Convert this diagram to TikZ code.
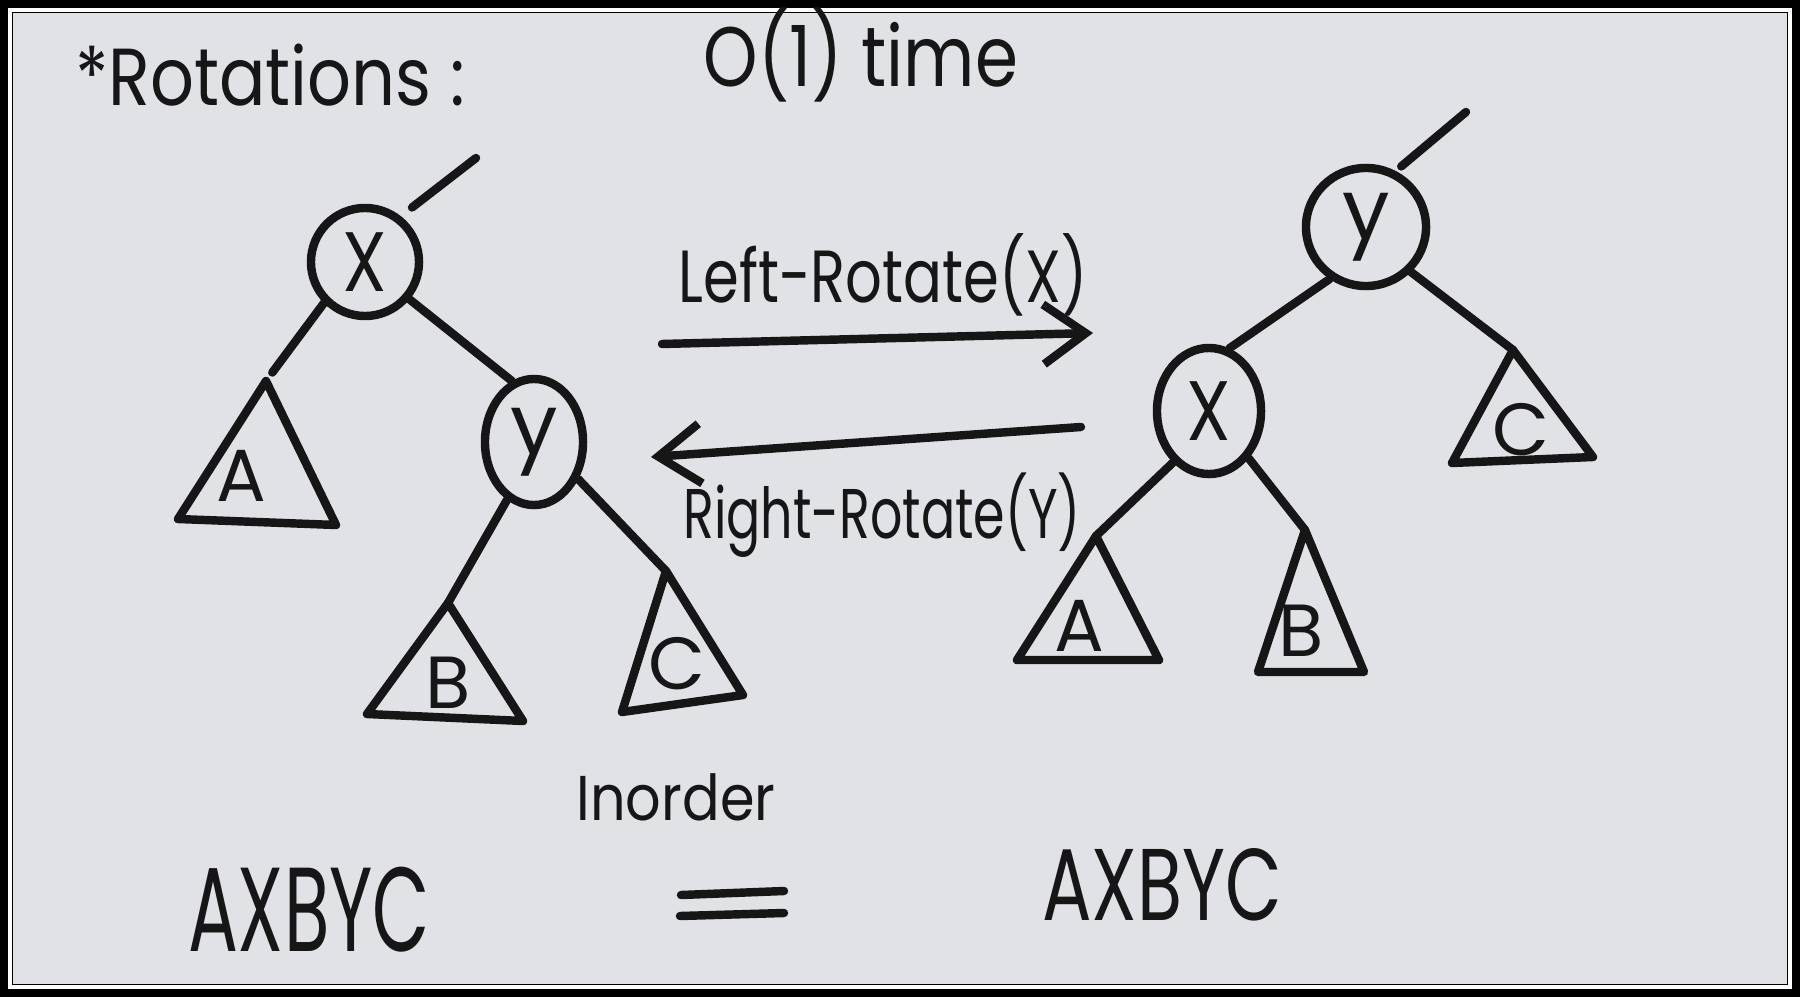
\documentclass[tikz,border=0pt]{standalone}
\usepackage{fontspec}
\setmainfont{Poppins}
\usetikzlibrary{arrows.meta,shapes.geometric}

\definecolor{paper}{RGB}{224,226,229}
\definecolor{ink}{RGB}{22,22,22}
\newcommand{\hw}[2][0.78]{\scalebox{#1}[1]{#2}}

\tikzset{
  pen/.style = {ink, line width=2.4pt, line cap=round, line join=round},
  vertex/.style = {pen, draw, ellipse, inner sep=0pt, font=\fontsize{24}{24}\selectfont},
  sub/.style = {ink, inner sep=0pt, font=\fontsize{21}{21}\selectfont},
  words/.style = {ink, inner sep=0pt},
  rot/.style = {pen, -{Straight Barb[length=12pt, width=17pt]}},
}

\begin{document}
\begin{tikzpicture}[x=0.01cm, y=-0.01cm]
	% frame and paper
	\fill [black] (0,0) rectangle (1800,997);
	\draw [white, line width=1pt] (10,10) rectangle (1790,987);
	\fill [paper] (13,13) rectangle (1787,984);
	%\shade [left color=black!25, right color=paper] (13,13) rectangle (60,984);

	% headings
	\node [words, font=\fontsize{23}{23}\selectfont] (title) at (270,75) {\hw[0.85]{*Rotations :}};
	\node [words, font=\fontsize{24}{24}\selectfont] (cost) at (861,55) {\hw[0.82]{O(1) time}};

	% tree before the rotation
	\node [vertex, minimum width=1.08cm, minimum height=1.08cm] (lx) at (365,262) {\hw[0.85]{X}};
	\node [vertex, minimum width=0.98cm, minimum height=1.26cm] (ly) at (534,442) {y};
	\coordinate (ltop) at (476,158);
	\coordinate (la) at (266,381);
	\coordinate (lb) at (448,603);
	\coordinate (lc) at (666,571);
	\draw [pen, shorten <=4pt] (lx.52) -- (ltop);
	\draw [pen, shorten >=3pt] (lx.-135) -- (la);
	\draw [pen] (lx.-40) -- (ly.110);
	\draw [pen] (ly.-115) -- (lb);
	\draw [pen] (ly.-40) -- (lc);
	\draw [pen] (la) -- (178,519) -- (336,525) -- cycle;
	\draw [pen] (lb) -- (367,714) -- (523,721) -- cycle;
	\draw [pen] (lc) -- (622,712) -- (743,695) -- cycle;
	\node [sub] (lal) at (241,476) {A};
	\node [sub] (lbl) at (448,683) {B};
	\node [sub] (lcl) at (677,664) {C};

	% the two rotations
	\coordinate (fwdA) at (662,344);
	\coordinate (fwdB) at (1093,333);
	\coordinate (bwdA) at (1081,427);
	\coordinate (bwdB) at (651,457);
	\draw [rot] (fwdA) -- (fwdB);
	\draw [rot] (bwdA) -- (bwdB);
	\node [words, font=\fontsize{21}{21}\selectfont] (leftrot) at (883,275) {\hw{Left-Rotate(X)}};
	\node [words, font=\fontsize{20}{20}\selectfont] (rightrot) at (882,515) {\hw[0.72]{Right-Rotate(Y)}};

	% tree after the rotation
	\node [vertex, minimum width=1.2cm, minimum height=1.18cm] (ry) at (1366,227) {y};
	\node [vertex, minimum width=1.04cm, minimum height=1.26cm] (rx) at (1209,411) {\hw[0.85]{X}};
	\coordinate (rtop) at (1466,112);
	\coordinate (ra) at (1096,536);
	\coordinate (rb) at (1305,530);
	\coordinate (rc) at (1513,350);
	\draw [pen, shorten <=2pt] (ry.62) -- (rtop);
	\draw [pen] (ry.-125) -- (rx.72);
	\draw [pen] (ry.-45) -- (rc);
	\draw [pen] (rx.-125) -- (ra);
	\draw [pen] (rx.-50) -- (rb);
	\draw [pen] (ra) -- (1017,660) -- (1159,660) -- cycle;
	\draw [pen] (rb) -- (1258,672) -- (1364,672) -- cycle;
	\draw [pen] (rc) -- (1452,463) -- (1593,457) -- cycle;
	\node [sub] (ral) at (1079,626) {A};
	\node [sub] (rbl) at (1301,631) {B};
	\node [sub] (rcl) at (1521,430) {C};

	% inorder walk
	\node [words, font=\fontsize{34}{34}\selectfont] (lwalk) at (309,910) {\hw[0.62]{AXBYC}};
	\node [words, font=\fontsize{29}{29}\selectfont] (rwalk) at (1162,885) {\hw[0.72]{AXBYC}};
	\node [words, font=\fontsize{18}{18}\selectfont] (inorder) at (676,797) {\hw[0.88]{Inorder}};
	\coordinate (eqa) at (681,895);
	\coordinate (eqb) at (784,891);
	\coordinate (eqc) at (680,916);
	\coordinate (eqd) at (784,913);
	\draw [pen] (eqa) -- (eqb);
	\draw [pen] (eqc) -- (eqd);
\end{tikzpicture}
\end{document}
